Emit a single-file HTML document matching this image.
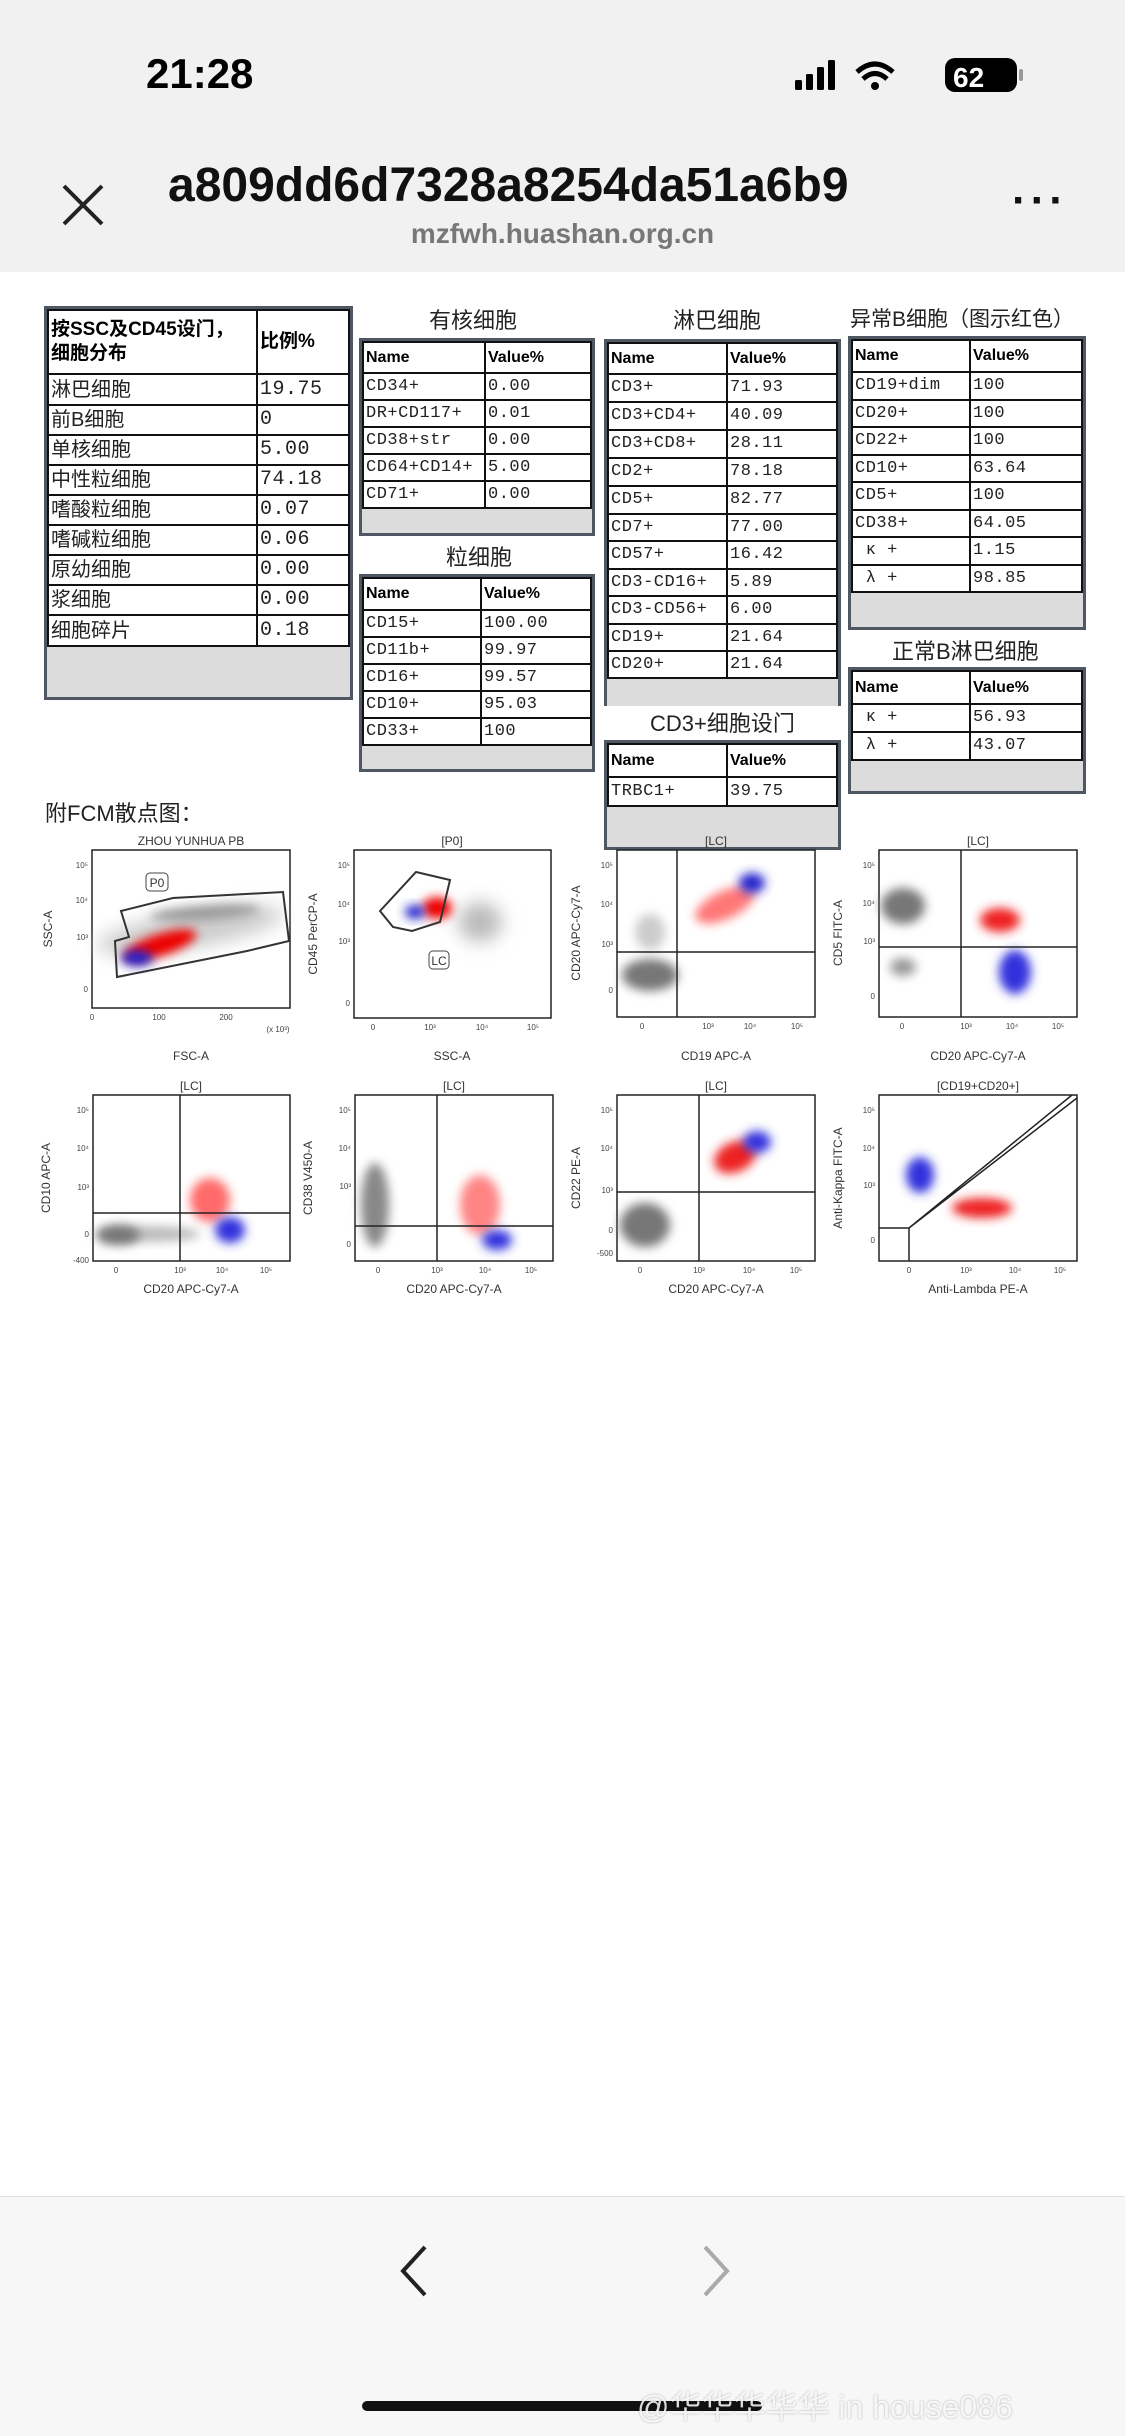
<!DOCTYPE html>
<html><head><meta charset="utf-8">
<style>
*{margin:0;padding:0;box-sizing:border-box}
body{width:1125px;height:2436px;position:relative;background:#fff;overflow:hidden;font-family:"Liberation Sans","Noto Sans CJK SC",sans-serif}
.abs{position:absolute}
.tb{position:absolute;border:3px solid #4f5862;background:#dcdcdc}
.tb table{border-collapse:collapse;width:100%;background:#fff;table-layout:fixed}
.tb td{border:2px solid #111;font-family:"Liberation Mono","Noto Sans CJK SC",monospace;font-size:17px;line-height:20px;color:#222;padding:0 2px;vertical-align:middle;white-space:nowrap;overflow:hidden;letter-spacing:0.5px}
.tb tr.h td{font-family:"Liberation Sans","Noto Sans CJK SC",sans-serif;font-weight:bold;font-size:16px;color:#000;letter-spacing:0}
.ttl{position:absolute;font-size:22px;color:#222;font-family:"Liberation Sans","Noto Sans CJK SC",sans-serif;white-space:nowrap}
.cj{font-family:"Liberation Sans","Noto Sans CJK SC",sans-serif !important;font-size:20px !important;letter-spacing:0 !important}
</style></head><body>
<!-- top bar -->
<div class="abs" style="left:0;top:0;width:1125px;height:272px;background:#f1f1f1"></div>
<div class="abs" style="left:146px;top:50px;font-size:42px;font-weight:bold;color:#000">21:28</div>
<svg class="abs" style="left:795px;top:58px" width="240" height="40">
<rect x="0" y="22" width="7" height="10" rx="1.5" fill="#000"/><rect x="11" y="16" width="7" height="16" rx="1.5" fill="#000"/><rect x="22" y="9" width="7" height="23" rx="1.5" fill="#000"/><rect x="33" y="2" width="7" height="30" rx="1.5" fill="#000"/>
<path d="M62 14 Q80 -2 98 14" stroke="#000" stroke-width="5" fill="none"/><path d="M68 21 Q80 10 92 21" stroke="#000" stroke-width="5" fill="none"/><circle cx="80" cy="28" r="4" fill="#000"/>
<rect x="150" y="0" width="72" height="34" rx="10" fill="#000"/><rect x="224" y="11" width="4" height="12" rx="2" fill="#999"/>
<text x="158" y="29" font-size="28" font-weight="bold" fill="#fff" font-family="Liberation Sans">62</text>
</svg>
<svg class="abs" style="left:60px;top:182px" width="48" height="48"><path d="M4 4 L42 42 M42 4 L4 42" stroke="#222" stroke-width="4"/></svg>
<div class="abs" style="left:168px;top:158px;width:800px;overflow:hidden;white-space:nowrap;font-size:48px;font-weight:bold;color:#111;-webkit-mask-image:linear-gradient(90deg,#000 88%,transparent 100%)">a809dd6d7328a8254da51a6b9</div>
<div class="abs" style="left:0;width:1125px;top:218px;text-align:center;font-size:28px;font-weight:bold;color:#777">mzfwh.huashan.org.cn</div>
<div class="abs" style="left:1012px;top:176px;font-size:44px;font-weight:bold;color:#111;letter-spacing:4px">···</div>

<!-- table 1 -->
<div class="tb" style="left:44px;top:306px;width:309px;height:394px">
<table><tr class="h" style="height:64px"><td style="width:209px;font-size:19px;line-height:24px">按SSC及CD45设门，<br>细胞分布</td><td style="font-size:19px">比例%</td></tr>
<tr style="height:31px"><td class="cj">淋巴细胞</td><td style="font-size:20px">19.75</td></tr>
<tr style="height:30px"><td class="cj">前B细胞</td><td style="font-size:20px">0</td></tr>
<tr style="height:30px"><td class="cj">单核细胞</td><td style="font-size:20px">5.00</td></tr>
<tr style="height:30px"><td class="cj">中性粒细胞</td><td style="font-size:20px">74.18</td></tr>
<tr style="height:30px"><td class="cj">嗜酸粒细胞</td><td style="font-size:20px">0.07</td></tr>
<tr style="height:30px"><td class="cj">嗜碱粒细胞</td><td style="font-size:20px">0.06</td></tr>
<tr style="height:30px"><td class="cj">原幼细胞</td><td style="font-size:20px">0.00</td></tr>
<tr style="height:30px"><td class="cj">浆细胞</td><td style="font-size:20px">0.00</td></tr>
<tr style="height:31px"><td class="cj">细胞碎片</td><td style="font-size:20px">0.18</td></tr>
</table></div>

<!-- 有核细胞 -->
<div class="ttl" style="left:429px;top:303px">有核细胞</div>
<div class="tb" style="left:359px;top:338px;width:236px;height:198px">
<table><tr class="h" style="height:31px"><td style="width:122px">Name</td><td>Value%</td></tr>
<tr style="height:27px"><td>CD34+</td><td>0.00</td></tr>
<tr style="height:27px"><td>DR+CD117+</td><td>0.01</td></tr>
<tr style="height:27px"><td>CD38+str</td><td>0.00</td></tr>
<tr style="height:27px"><td>CD64+CD14+</td><td>5.00</td></tr>
<tr style="height:27px"><td>CD71+</td><td>0.00</td></tr></table></div>

<!-- 粒细胞 -->
<div class="ttl" style="left:446px;top:540px">粒细胞</div>
<div class="tb" style="left:359px;top:574px;width:236px;height:198px">
<table><tr class="h" style="height:32px"><td style="width:118px">Name</td><td>Value%</td></tr>
<tr style="height:27px"><td>CD15+</td><td>100.00</td></tr>
<tr style="height:27px"><td>CD11b+</td><td>99.97</td></tr>
<tr style="height:27px"><td>CD16+</td><td>99.57</td></tr>
<tr style="height:27px"><td>CD10+</td><td>95.03</td></tr>
<tr style="height:27px"><td>CD33+</td><td>100</td></tr></table></div>

<!-- 淋巴细胞 -->
<div class="ttl" style="left:673px;top:303px">淋巴细胞</div>
<div class="tb" style="left:604px;top:339px;width:237px;height:367px;border-bottom:none">
<table><tr class="h" style="height:31px"><td style="width:119px">Name</td><td>Value%</td></tr>
<tr style="height:28px"><td>CD3+</td><td>71.93</td></tr>
<tr style="height:28px"><td>CD3+CD4+</td><td>40.09</td></tr>
<tr style="height:28px"><td>CD3+CD8+</td><td>28.11</td></tr>
<tr style="height:28px"><td>CD2+</td><td>78.18</td></tr>
<tr style="height:28px"><td>CD5+</td><td>82.77</td></tr>
<tr style="height:27px"><td>CD7+</td><td>77.00</td></tr>
<tr style="height:28px"><td>CD57+</td><td>16.42</td></tr>
<tr style="height:27px"><td>CD3-CD16+</td><td>5.89</td></tr>
<tr style="height:28px"><td>CD3-CD56+</td><td>6.00</td></tr>
<tr style="height:27px"><td>CD19+</td><td>21.64</td></tr>
<tr style="height:27px"><td>CD20+</td><td>21.64</td></tr></table></div>

<!-- CD3 -->
<div class="ttl" style="left:650px;top:706px">CD3+细胞设门</div>
<div class="tb" style="left:604px;top:740px;width:237px;height:110px">
<table><tr class="h" style="height:33px"><td style="width:119px">Name</td><td>Value%</td></tr>
<tr style="height:29px"><td>TRBC1+</td><td>39.75</td></tr></table></div>

<!-- 异常B -->
<div class="ttl" style="left:850px;top:303px;font-size:21px">异常B细胞（图示红色）</div>
<div class="tb" style="left:848px;top:336px;width:238px;height:294px">
<table><tr class="h" style="height:32px"><td style="width:118px">Name</td><td>Value%</td></tr>
<tr style="height:28px"><td>CD19+dim</td><td>100</td></tr>
<tr style="height:27px"><td>CD20+</td><td>100</td></tr>
<tr style="height:28px"><td>CD22+</td><td>100</td></tr>
<tr style="height:27px"><td>CD10+</td><td>63.64</td></tr>
<tr style="height:28px"><td>CD5+</td><td>100</td></tr>
<tr style="height:27px"><td>CD38+</td><td>64.05</td></tr>
<tr style="height:28px"><td>&nbsp;κ +</td><td>1.15</td></tr>
<tr style="height:27px"><td>&nbsp;λ +</td><td>98.85</td></tr></table></div>

<!-- 正常B -->
<div class="ttl" style="left:892px;top:634px">正常B淋巴细胞</div>
<div class="tb" style="left:848px;top:667px;width:238px;height:127px">
<table><tr class="h" style="height:33px"><td style="width:118px">Name</td><td>Value%</td></tr>
<tr style="height:28px"><td>&nbsp;κ +</td><td>56.93</td></tr>
<tr style="height:28px"><td>&nbsp;λ +</td><td>43.07</td></tr></table></div>

<div class="abs" style="left:45px;top:796px;font-size:22px;color:#222">附FCM散点图：</div>

<!-- plots -->
<svg class="abs" style="left:0;top:0" width="1125" height="1400" font-family="Liberation Sans, sans-serif">
<defs>
<filter id="b" x="-50%" y="-50%" width="200%" height="200%"><feGaussianBlur stdDeviation="5"/></filter>
<filter id="b2" x="-50%" y="-50%" width="200%" height="200%"><feGaussianBlur stdDeviation="9"/></filter>
</defs>
<g fill="none" stroke="#222" stroke-width="1.5">
<rect x="92" y="850" width="198" height="158"/><rect x="354" y="850" width="197" height="168"/>
<rect x="617" y="850" width="198" height="167"/><rect x="879" y="850" width="198" height="167"/>
<rect x="93" y="1095" width="197" height="166"/><rect x="355" y="1095" width="198" height="166"/>
<rect x="617" y="1095" width="198" height="166"/><rect x="879" y="1095" width="198" height="166"/>
</g>
<!-- plot1 -->
<ellipse cx="190" cy="930" rx="95" ry="18" fill="#ccc" filter="url(#b2)" transform="rotate(-10 190 930)"/>
<ellipse cx="205" cy="913" rx="55" ry="7" fill="#999" filter="url(#b)" transform="rotate(-4 205 913)"/>
<ellipse cx="160" cy="945" rx="38" ry="11" fill="#e00" filter="url(#b)" transform="rotate(-18 160 945)"/>
<ellipse cx="137" cy="958" rx="16" ry="8" fill="#22c" filter="url(#b)"/>
<polygon points="121,911 173,898 283,892 289,941 247,951 117,977 115,941 129,937" fill="none" stroke="#333" stroke-width="2"/>
<rect x="146" y="873" width="22" height="18" rx="4" fill="#fff" stroke="#444"/><text x="157" y="887" font-size="12" text-anchor="middle" fill="#333">P0</text>
<!-- plot2 -->
<ellipse cx="480" cy="922" rx="22" ry="20" fill="#bbb" filter="url(#b2)"/>
<ellipse cx="437" cy="908" rx="15" ry="11" fill="#e00" filter="url(#b)"/>
<ellipse cx="415" cy="912" rx="10" ry="7" fill="#22c" filter="url(#b)"/>
<polygon points="416,872 450,880 440,922 412,931 393,927 380,911" fill="none" stroke="#333" stroke-width="2"/>
<rect x="429" y="951" width="20" height="18" rx="4" fill="#fff" stroke="#444"/><text x="439" y="965" font-size="12" text-anchor="middle" fill="#333">LC</text>
<!-- plot3 -->
<ellipse cx="650" cy="932" rx="15" ry="18" fill="#ccc" filter="url(#b)"/>
<ellipse cx="650" cy="975" rx="28" ry="16" fill="#777" filter="url(#b)"/>
<ellipse cx="725" cy="905" rx="32" ry="14" fill="#f55" opacity=".8" filter="url(#b)" transform="rotate(-25 725 905)"/>
<ellipse cx="752" cy="883" rx="13" ry="10" fill="#22c" filter="url(#b)"/>
<line x1="677" y1="850" x2="677" y2="1017" stroke="#222" stroke-width="1.5"/><line x1="617" y1="952" x2="815" y2="952" stroke="#222" stroke-width="1.5"/>
<!-- plot4 -->
<ellipse cx="903" cy="906" rx="22" ry="18" fill="#777" filter="url(#b)"/>
<ellipse cx="903" cy="967" rx="13" ry="9" fill="#999" filter="url(#b)"/>
<ellipse cx="1000" cy="920" rx="20" ry="12" fill="#e22" filter="url(#b)"/>
<ellipse cx="1015" cy="972" rx="16" ry="22" fill="#33d" filter="url(#b)"/>
<line x1="961" y1="850" x2="961" y2="1017" stroke="#222" stroke-width="1.5"/><line x1="879" y1="947" x2="1077" y2="947" stroke="#222" stroke-width="1.5"/>
<!-- plot5 -->
<ellipse cx="150" cy="1234" rx="50" ry="8" fill="#bbb" filter="url(#b)"/>
<ellipse cx="118" cy="1235" rx="22" ry="10" fill="#777" filter="url(#b)"/>
<ellipse cx="210" cy="1200" rx="20" ry="22" fill="#f44" opacity=".8" filter="url(#b)"/>
<ellipse cx="230" cy="1230" rx="15" ry="13" fill="#33d" filter="url(#b)"/>
<line x1="180" y1="1095" x2="180" y2="1261" stroke="#222" stroke-width="1.5"/><line x1="93" y1="1213" x2="290" y2="1213" stroke="#222" stroke-width="1.5"/>
<!-- plot6 -->
<ellipse cx="375" cy="1205" rx="14" ry="42" fill="#888" filter="url(#b)"/>
<ellipse cx="480" cy="1205" rx="20" ry="30" fill="#f66" opacity=".8" filter="url(#b)"/>
<ellipse cx="497" cy="1240" rx="15" ry="10" fill="#33d" filter="url(#b)"/>
<line x1="437" y1="1095" x2="437" y2="1261" stroke="#222" stroke-width="1.5"/><line x1="355" y1="1226" x2="553" y2="1226" stroke="#222" stroke-width="1.5"/>
<!-- plot7 -->
<ellipse cx="645" cy="1225" rx="25" ry="22" fill="#777" filter="url(#b)"/>
<ellipse cx="735" cy="1157" rx="22" ry="15" fill="#e22" filter="url(#b)" transform="rotate(-25 735 1157)"/>
<ellipse cx="757" cy="1142" rx="14" ry="11" fill="#33d" filter="url(#b)"/>
<line x1="699" y1="1095" x2="699" y2="1261" stroke="#222" stroke-width="1.5"/><line x1="617" y1="1192" x2="815" y2="1192" stroke="#222" stroke-width="1.5"/>
<!-- plot8 -->
<ellipse cx="920" cy="1175" rx="14" ry="18" fill="#33d" filter="url(#b)"/>
<ellipse cx="982" cy="1208" rx="30" ry="10" fill="#e22" filter="url(#b)"/>
<path d="M879 1228 H909 V1261 M909 1228 L1072 1095 M909 1228 L1077 1098" fill="none" stroke="#222" stroke-width="1.5"/>
<!-- ticks labels -->
<g font-size="8" fill="#444" text-anchor="middle">
<text x="92" y="1020">0</text><text x="159" y="1020">100</text><text x="226" y="1020">200</text><text x="278" y="1032">(x 10³)</text>
<text x="373" y="1030">0</text><text x="430" y="1030">10³</text><text x="482" y="1030">10⁴</text><text x="533" y="1030">10⁵</text>
<text x="642" y="1029">0</text><text x="708" y="1029">10³</text><text x="750" y="1029">10⁴</text><text x="797" y="1029">10⁵</text>
<text x="902" y="1029">0</text><text x="966" y="1029">10³</text><text x="1012" y="1029">10⁴</text><text x="1058" y="1029">10⁵</text>
<text x="116" y="1273">0</text><text x="180" y="1273">10³</text><text x="222" y="1273">10⁴</text><text x="266" y="1273">10⁵</text>
<text x="378" y="1273">0</text><text x="437" y="1273">10³</text><text x="485" y="1273">10⁴</text><text x="531" y="1273">10⁵</text>
<text x="640" y="1273">0</text><text x="699" y="1273">10³</text><text x="749" y="1273">10⁴</text><text x="796" y="1273">10⁵</text>
<text x="909" y="1273">0</text><text x="966" y="1273">10³</text><text x="1015" y="1273">10⁴</text><text x="1060" y="1273">10⁵</text>
</g>
<g font-size="8" fill="#444" text-anchor="end">
<text x="88" y="868">10⁵</text><text x="88" y="903">10⁴</text><text x="88" y="940">10³</text><text x="88" y="992">0</text>
<text x="350" y="868">10⁵</text><text x="350" y="907">10⁴</text><text x="350" y="944">10³</text><text x="350" y="1006">0</text>
<text x="613" y="868">10⁵</text><text x="613" y="907">10⁴</text><text x="613" y="947">10³</text><text x="613" y="993">0</text>
<text x="875" y="868">10⁵</text><text x="875" y="906">10⁴</text><text x="875" y="944">10³</text><text x="875" y="999">0</text>
<text x="89" y="1113">10⁵</text><text x="89" y="1151">10⁴</text><text x="89" y="1190">10³</text><text x="89" y="1237">0</text><text x="89" y="1263">-400</text>
<text x="351" y="1113">10⁵</text><text x="351" y="1151">10⁴</text><text x="351" y="1189">10³</text><text x="351" y="1247">0</text>
<text x="613" y="1113">10⁵</text><text x="613" y="1151">10⁴</text><text x="613" y="1193">10³</text><text x="613" y="1233">0</text><text x="613" y="1256">-500</text>
<text x="875" y="1113">10⁵</text><text x="875" y="1151">10⁴</text><text x="875" y="1188">10³</text><text x="875" y="1243">0</text>
</g>
<g font-size="12" fill="#333" text-anchor="middle">
<text x="191" y="845">ZHOU YUNHUA PB</text><text x="452" y="845">[P0]</text><text x="716" y="845">[LC]</text><text x="978" y="845">[LC]</text>
<text x="191" y="1090">[LC]</text><text x="454" y="1090">[LC]</text><text x="716" y="1090">[LC]</text><text x="978" y="1090">[CD19+CD20+]</text>
<text x="191" y="1060">FSC-A</text><text x="452" y="1060">SSC-A</text><text x="716" y="1060">CD19 APC-A</text><text x="978" y="1060">CD20 APC-Cy7-A</text>
<text x="191" y="1293">CD20 APC-Cy7-A</text><text x="454" y="1293">CD20 APC-Cy7-A</text><text x="716" y="1293">CD20 APC-Cy7-A</text><text x="978" y="1293">Anti-Lambda PE-A</text>
<text transform="translate(52 929) rotate(-90)">SSC-A</text>
<text transform="translate(317 934) rotate(-90)">CD45 PerCP-A</text>
<text transform="translate(580 933) rotate(-90)">CD20 APC-Cy7-A</text>
<text transform="translate(842 933) rotate(-90)">CD5 FITC-A</text>
<text transform="translate(50 1178) rotate(-90)">CD10 APC-A</text>
<text transform="translate(312 1178) rotate(-90)">CD38 V450-A</text>
<text transform="translate(580 1178) rotate(-90)">CD22 PE-A</text>
<text transform="translate(842 1178) rotate(-90)">Anti-Kappa FITC-A</text>
</g>
</svg>

<!-- bottom toolbar -->
<div class="abs" style="left:0;top:2196px;width:1125px;height:240px;background:#f7f7f7;border-top:1px solid #e0e0e0"></div>
<svg class="abs" style="left:395px;top:2243px" width="40" height="56"><path d="M30 4 L8 28 L30 52" fill="none" stroke="#222" stroke-width="4"/></svg>
<svg class="abs" style="left:695px;top:2243px" width="40" height="56"><path d="M10 4 L32 28 L10 52" fill="none" stroke="#aaa" stroke-width="4"/></svg>
<div class="abs" style="left:362px;top:2401px;width:400px;height:10px;border-radius:5px;background:#111"></div>
<div class="abs" style="left:637px;top:2382px;font-size:32px;color:rgba(255,255,255,0.85);text-shadow:0 0 2px rgba(0,0,0,0.3);white-space:nowrap;font-family:'Liberation Sans','Noto Sans CJK SC',sans-serif">@华华华华华 in house086</div>
</body></html>
